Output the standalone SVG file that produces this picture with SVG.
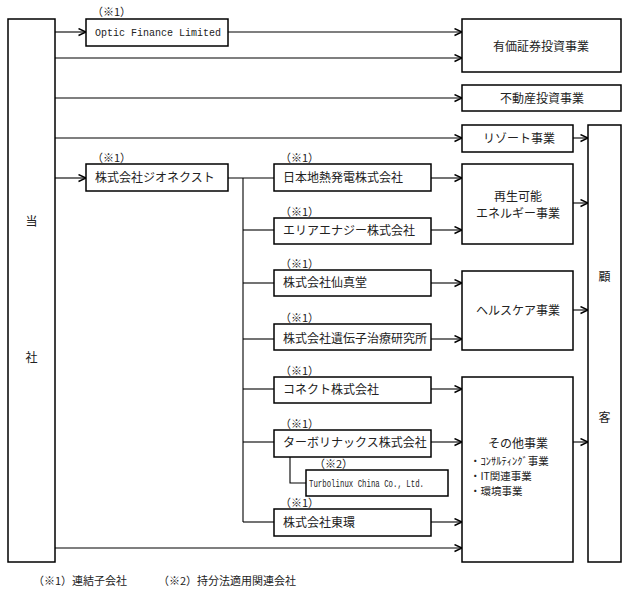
<svg xmlns="http://www.w3.org/2000/svg" width="627" height="598" viewBox="0 0 627 598">
<style>
.box{fill:#fff;stroke:#000;stroke-width:1.5}
.ln{fill:none;stroke:#000;stroke-width:1.1}
.ar{fill:none;stroke:#000;stroke-width:1.1;marker-end:url(#arr)}
.t{font-family:"Noto Sans CJK JP","Liberation Sans",sans-serif;font-size:12px;fill:#222}
.b{font-family:"Noto Sans CJK JP","Liberation Sans",sans-serif;font-size:10.5px;fill:#222}
.c{text-anchor:middle}
.n{font-family:"Noto Sans CJK JP","Liberation Sans",sans-serif;font-size:11px;fill:#222}
.m{font-family:"Liberation Mono",monospace;font-size:10px;fill:#222}
</style>
<defs>
<marker id="arr" markerUnits="userSpaceOnUse" markerWidth="10" markerHeight="10" refX="8" refY="4" orient="auto">
<path d="M0.5,0.5 L8,4 L0.5,7.5" fill="none" stroke="#000" stroke-width="1.4"/>
</marker>
</defs>
<g id="connectors">
<path class="ar" d="M55,32 H86"/>
<path class="ar" d="M228,32 H462"/>
<path class="ar" d="M55,58 H462"/>
<path class="ar" d="M55,98 H462"/>
<path class="ar" d="M55,138 H462"/>
<path class="ar" d="M573,138 H588"/>
<path class="ar" d="M55,178 H86"/>
<path class="ln" d="M228,178 H274"/>
<path class="ln" d="M243,178 V522"/>
<path class="ln" d="M243,230 H274"/>
<path class="ln" d="M243,283 H274"/>
<path class="ln" d="M243,339 H274"/>
<path class="ln" d="M243,389 H274"/>
<path class="ln" d="M243,442 H274"/>
<path class="ln" d="M243,522 H274"/>
<path class="ln" d="M290,457 V483 H306"/>
<path class="ar" d="M431,178 H462"/>
<path class="ar" d="M431,230 H462"/>
<path class="ar" d="M431,283 H462"/>
<path class="ar" d="M431,339 H462"/>
<path class="ar" d="M431,389 H462"/>
<path class="ar" d="M431,442 H462"/>
<path class="ar" d="M431,522 H462"/>
<path class="ar" d="M55,548 H462"/>
<path class="ar" d="M573,203 H588"/>
<path class="ar" d="M573,310 H588"/>
<path class="ar" d="M573,442 H588"/>
</g>
<g id="toushaa">
<rect class="box" x="8" y="19" width="47" height="543"/>
<text class="t c" x="31.5" y="226">当</text>
<text class="t c" x="31.5" y="362">社</text>
</g>
<g id="optic">
<text class="n" x="92" y="16">（※1）</text>
<rect class="box" x="86" y="19" width="142" height="27"/>
<text class="m" x="95" y="36">Optic Finance Limited</text>
</g>
<g id="geonext">
<text class="n" x="92" y="162">（※1）</text>
<rect class="box" x="86" y="164" width="142" height="27"/>
<text class="t" x="95" y="182">株式会社ジオネクスト</text>
</g>
<g id="nihonchinetsu">
<text class="n" x="280" y="162">（※1）</text>
<rect class="box" x="274" y="164" width="157" height="27"/>
<text class="t" x="283" y="182">日本地熱発電株式会社</text>
</g>
<g id="area">
<text class="n" x="280" y="216">（※1）</text>
<rect class="box" x="274" y="218" width="157" height="26"/>
<text class="t" x="283" y="235">エリアエナジー株式会社</text>
</g>
<g id="senshindo">
<text class="n" x="280" y="268">（※1）</text>
<rect class="box" x="274" y="270" width="157" height="26"/>
<text class="t" x="283" y="287">株式会社仙真堂</text>
</g>
<g id="idenshi">
<text class="n" x="280" y="322">（※1）</text>
<rect class="box" x="274" y="324" width="157" height="26"/>
<text class="t" x="283" y="343">株式会社遺伝子治療研究所</text>
</g>
<g id="connect">
<text class="n" x="280" y="375">（※1）</text>
<rect class="box" x="274" y="377" width="157" height="26"/>
<text class="t" x="283" y="394">コネクト株式会社</text>
</g>
<g id="turbolinux">
<text class="n" x="280" y="428">（※1）</text>
<rect class="box" x="274" y="430" width="157" height="27"/>
<text class="t" x="283" y="447">ターボリナックス株式会社</text>
</g>
<g id="turbochina">
<text class="n" x="314" y="468">（※2）</text>
<rect class="box" x="306" y="470" width="142" height="26"/>
<text class="m" x="309" y="487" font-size="8" textLength="115" lengthAdjust="spacingAndGlyphs">Turbolinux China Co., Ltd.</text>
</g>
<g id="tokan">
<text class="n" x="280" y="507">（※1）</text>
<rect class="box" x="274" y="509" width="157" height="27"/>
<text class="t" x="283" y="527">株式会社東環</text>
</g>
<g id="yuka">
<rect class="box" x="462" y="19" width="159" height="53"/>
<text class="t c" x="541" y="51">有価証券投資事業</text>
</g>
<g id="fudosan">
<rect class="box" x="462" y="85" width="159" height="26"/>
<text class="t c" x="542" y="103">不動産投資事業</text>
</g>
<g id="resort">
<rect class="box" x="462" y="125" width="111" height="27"/>
<text class="t c" x="519" y="143">リゾート事業</text>
</g>
<g id="energy">
<rect class="box" x="462" y="164" width="111" height="80"/>
<text class="t c" x="518" y="201">再生可能</text>
<text class="t c" x="518" y="218">エネルギー事業</text>
</g>
<g id="health">
<rect class="box" x="462" y="271" width="111" height="79"/>
<text class="t c" x="518" y="315">ヘルスケア事業</text>
</g>
<g id="other">
<rect class="box" x="462" y="377" width="111" height="185"/>
<text class="t c" x="518" y="448">その他事業</text>
<text class="b" x="470" y="465">・ｺﾝｻﾙﾃｨﾝｸﾞ事業</text>
<text class="b" x="470" y="480">・IT関連事業</text>
<text class="b" x="470" y="495">・環境事業</text>
</g>
<g id="kokyaku">
<rect class="box" x="588" y="125" width="33" height="437"/>
<text class="t c" x="604.5" y="281">顧</text>
<text class="t c" x="604.5" y="422">客</text>
</g>
<g id="notes">
<text class="n" x="33" y="585">（※1）連結子会社</text>
<text class="n" x="158" y="585">（※2）持分法適用関連会社</text>
</g>
</svg>
